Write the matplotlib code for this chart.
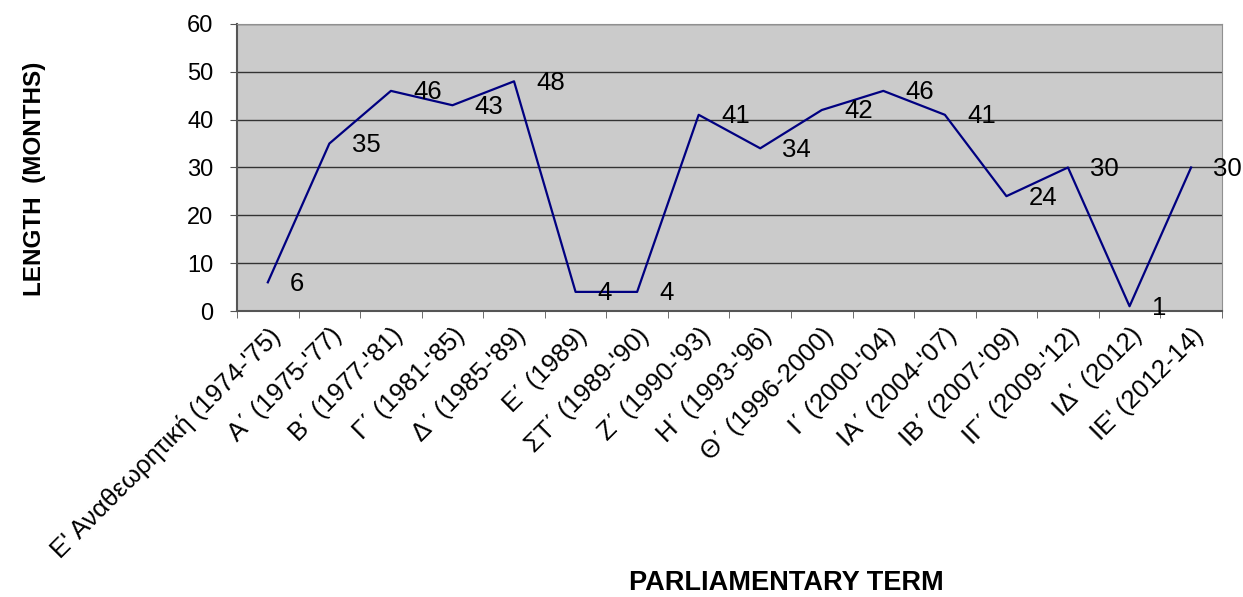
import matplotlib.pyplot as plt
import numpy as np

plt.rcParams['font.family'] = ['Liberation Sans', 'DejaVu Sans']

terms = ["Ε' Αναθεωρητική (1974-'75)", "Α΄ (1975-'77)", "Β΄ (1977-'81)",
         "Γ΄ (1981-'85)", "Δ΄ (1985-'89)", "Ε΄ (1989)", "ΣΤ΄ (1989-'90)",
         "Ζ΄ (1990-'93)", "Η΄ (1993-'96)", "Θ΄ (1996-2000)", "Ι΄ (2000-'04)",
         "ΙΑ΄ (2004-'07)", "ΙΒ΄ (2007-'09)", "ΙΓ΄ (2009-'12)", "ΙΔ΄ (2012)",
         "ΙΕ' (2012-14)"]
months = [6, 35, 46, 43, 48, 4, 4, 41, 34, 42, 46, 41, 24, 30, 1, 30]

fig = plt.figure(figsize=(12.43, 5.97), dpi=100)
ax = fig.add_axes([0.1907, 0.479, 0.7923, 0.481])
ax.set_facecolor('#cbcbcb')

x = np.arange(len(terms))
ax.plot(x, months, color='#000080', lw=1.6)
for xi, v in zip(x, months):
    ax.annotate(str(v), (xi, v), xytext=(16, -1), textcoords='offset points',
                ha='left', va='center', fontsize=18.5, annotation_clip=False)

ax.set_xlim(-0.5, len(terms) - 0.5)
ax.set_ylim(0, 60)
ax.set_yticks(range(0, 61, 10))
ax.yaxis.grid(True, color='#333333', lw=1)
ax.set_axisbelow(True)

ax.set_xticks(x)
ax.set_xticklabels(terms, rotation=45, ha='right', rotation_mode='anchor', fontsize=18.5)
ax.set_xticks(np.arange(-0.5, len(terms)), minor=True)
ax.tick_params(axis='x', which='major', length=0, pad=9)
ax.tick_params(axis='x', which='minor', length=5, color='#555555')
ax.tick_params(axis='y', length=5, color='#555555', labelsize=17, pad=12)

for s in ax.spines.values():
    s.set_color('#909090')
ax.spines['left'].set_color('#555555')
ax.spines['bottom'].set_color('#555555')
ax.spines['left'].set_linewidth(1.5)
ax.spines['bottom'].set_linewidth(1.5)

fig.text(0.028, 0.70, 'LENGTH  (MONTHS)', rotation=90, ha='center', va='center',
         fontsize=17.5, fontweight='bold')
fig.text(0.633, 0.023, 'PARLIAMENTARY TERM', ha='center', va='center',
         fontsize=19.5, fontweight='bold')

fig.savefig('out.png', dpi=100)
